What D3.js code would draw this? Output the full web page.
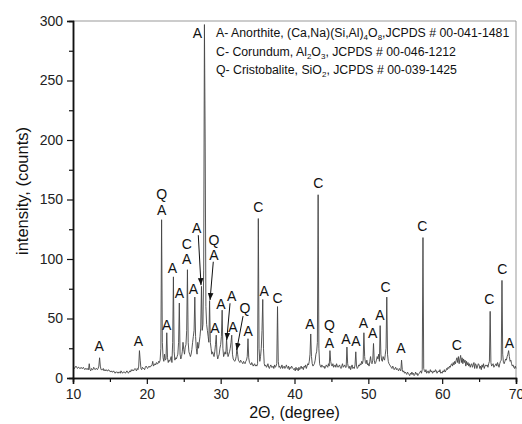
<!DOCTYPE html>
<html>
<head>
<meta charset="utf-8">
<script src="https://cdn.jsdelivr.net/npm/d3@7"></script>
<style>
  body { margin:0; background:#fff; }
  text { font-family: Arial, "Liberation Sans", sans-serif; }
</style>
</head>
<body>
<div id="plotarea"></div>
<script>
// XRD pattern, counts read every 0.1 deg from 10.0 to 70.0 (one row per degree)
var startAngle = 10, stepAngle = 0.1;
var countsByDegree = [
  [9,9,8,9,10,9,8,9,9,8],          // 10
  [8,9,8,8,9,8,7,8,8,7],           // 11
  [8,7,12,7,6,8,7,7,9,8],          // 12
  [7,8,8,7,8,10,17,10,7,7],        // 13
  [7,8,6,7,6,7,6,6,7,6],           // 14
  [6,5,6,5,5,6,5,4,5,5],           // 15
  [5,4,5,5,4,6,5,4,5,5],           // 16
  [5,4,5,6,5,4,5,6,5,7],           // 17
  [6,7,6,7,8,7,6,8,7,10],          // 18
  [23,15,8,7,9,8,8,7,9,10],        // 19
  [9,8,9,10,9,10,10,11,14,10],     // 20
  [11,12,11,13,12,12,14,13,15,25], // 21
  [133,30,17,14,20,15,16,38,17,13],// 22
  [15,14,16,18,13,30,85,22,15,17], // 23
  [16,18,20,30,63,20,16,18,22,30], // 24
  [24,20,26,28,40,91,30,22,20,18], // 25
  [20,24,30,35,40,68,35,25,20,30], // 26
  [25,30,35,42,77,40,45,90,297,200],// 27
  [60,45,40,35,30,65,30,25,20,22], // 28
  [20,18,22,28,36,20,16,18,20,25], // 29
  [28,35,57,25,18,20,22,20,33,22], // 30
  [18,20,22,25,30,36,20,16,15,14], // 31
  [15,18,25,20,15,14,13,15,14,13], // 32
  [12,14,13,12,14,15,18,33,17,13], // 33
  [12,11,13,12,10,11,12,10,11,10], // 34
  [12,134,25,14,18,25,40,66,25,12],// 35
  [10,11,9,10,12,9,8,10,11,9],     // 36
  [9,10,8,11,9,10,12,60,14,9],     // 37
  [10,8,9,11,8,9,10,8,9,11],       // 38
  [9,8,10,7,9,8,10,9,8,7],         // 39
  [8,6,9,7,8,6,9,7,8,10],          // 40
  [8,9,7,10,9,11,8,10,12,11],      // 41
  [14,20,37,18,12,10,11,12,15,20], // 42
  [22,30,154,25,12,10,9,11,10,9],  // 43
  [10,8,9,11,10,9,12,10,23,14],    // 44
  [11,10,12,9,10,11,9,12,10,9],    // 45
  [10,11,9,8,10,12,9,10,11,9],     // 46
  [9,26,12,9,8,10,7,9,11,8],       // 47
  [9,8,11,22,10,8,9,11,10,12],     // 48
  [11,14,12,15,38,18,13,12,15,11], // 49
  [12,10,14,18,13,12,15,29,15,12], // 50
  [13,15,18,16,20,14,44,20,15,14], // 51
  [18,16,15,20,25,68,20,14,12,11], // 52
  [10,9,8,10,9,7,8,9,7,8],         // 53
  [7,6,8,7,6,15,7,5,6,4],          // 54
  [5,4,3,5,4,3,2,4,3,5],           // 55
  [3,4,2,3,5,3,4,2,3,4],           // 56
  [5,6,4,7,118,8,6,5,7,4],         // 57
  [5,6,4,5,7,5,6,4,5,6],           // 58
  [5,7,6,4,5,6,5,7,4,5],           // 59
  [4,6,5,7,5,6,8,7,9,8],           // 60
  [10,9,11,12,10,13,11,14,12,15],  // 61
  [17,13,18,12,16,19,13,17,12,16], // 62
  [13,15,10,14,11,13,10,12,9,11],  // 63
  [12,9,11,13,8,12,11,8,10,12],    // 64
  [11,8,10,7,11,9,12,8,10,11],     // 65
  [10,11,9,12,14,56,13,10,11,12],  // 66
  [9,10,11,12,10,13,11,9,12,14],   // 67
  [15,82,20,13,12,14,16,15,18,20], // 68
  [23,18,14,15,12,10,11,9,8,10],   // 69
  [8]                              // 70
];

// peak labels: [text, 2theta, counts at baseline of letter]
var peakLabels = [
  ["A",13.56,22.3],["A",18.85,26.5],["Q",22.0,150.8],["A",22.0,137],
  ["A",22.69,40.3],["A",23.45,88.5],["A",24.4,67],["C",25.4,108.4],["A",25.4,95.5],
  ["A",26.3,70.3],["A",26.75,121.6],["A",26.85,285.5],["Q",29.1,111.8],["A",29.1,99.2],
  ["A",29.23,37.6],["A",30.05,57.7],["A",31.5,64.7],["A",31.67,38.9],["Q",33.3,54.4],
  ["A",33.74,35.5],["C",35.1,139.2],["A",35.9,69.2],["C",37.72,62.8],["A",42.1,41.2],
  ["C",43.23,159.4],["Q",44.72,40.3],["A",44.72,25.5],["A",46.98,28.3],["A",48.33,27.1],
  ["A",49.32,42.3],["A",50.59,33.4],["A",51.58,48.7],["C",52.35,72.5],["A",54.43,20.7],
  ["C",57.31,123.5],["C",61.97,23.5],["C",66.39,61.9],["C",68.15,87.1],["A",69.1,25.5]
];
// arrows: [from 2theta, from counts, to 2theta, to counts]
var arrows = [
  [26.97,120,27.34,78],
  [29.0,97.7,28.56,65.5],
  [31.27,62.8,30.82,32],
  [33.03,52,32.17,23.5]
];
var legendLines = [
  [["A- Anorthite, (Ca,Na)(Si,Al)",0],["4",1],["O",0],["8",1],[",JCPDS # 00-041-1481",0]],
  [["C- Corundum, Al",0],["2",1],["O",0],["3",1],[", JCPDS # 00-046-1212",0]],
  [["Q- Cristobalite, SiO",0],["2",1],[", JCPDS # 00-039-1425",0]]
];
var xTicks = [10,20,30,40,50,60,70];
var yTicks = [0,50,100,150,200,250,300];

var W = 522, H = 424;
var margin_left = 73, margin_right = 6, margin_top = 21, margin_bottom = 46;
var width = W - margin_left - margin_right;
var height = H - margin_top - margin_bottom;

var svg = d3.select("#plotarea").append("svg")
  .attr("width", W).attr("height", H);
var g = svg.append("g")
  .attr("transform", "translate(" + margin_left + "," + margin_top + ")");

var x = d3.scaleLinear().domain([10,70]).range([0,width]);
var y = d3.scaleLinear().domain([0,300]).range([height,0]);

var counts = [].concat.apply([], countsByDegree);
var trace = counts.map(function(c,i){ return [startAngle + i*stepAngle, c]; });

// frame (top/right light)
g.append("line").attr("x1",0).attr("x2",width).attr("y1",0).attr("y2",0)
  .attr("stroke","#999").attr("stroke-width",1);
g.append("line").attr("x1",width).attr("x2",width).attr("y1",0).attr("y2",height)
  .attr("stroke","#999").attr("stroke-width",1);

// the pattern
g.append("path").datum(trace)
  .attr("fill","none").attr("stroke","#444").attr("stroke-width",0.9)
  .attr("d", d3.line().x(function(d){return x(d[0]);}).y(function(d){return y(d[1]);}));

// axes
g.append("g").attr("transform","translate(0," + height + ")")
  .call(d3.axisBottom(x).tickValues(xTicks).tickSize(6).tickPadding(5).tickFormat(d3.format("d")));
g.append("g").attr("transform","translate(0," + height + ")")
  .call(d3.axisBottom(x).tickValues(d3.range(15,70,10)).tickSize(4).tickFormat(""));
g.append("g")
  .call(d3.axisLeft(y).tickValues(yTicks).tickSize(6).tickPadding(4).tickFormat(d3.format("d")));
g.append("g")
  .call(d3.axisLeft(y).tickValues(d3.range(25,300,50)).tickSize(4).tickFormat(""));
g.selectAll(".domain").attr("stroke","#111").attr("stroke-width",1.5);
g.selectAll(".tick line").attr("stroke","#111").attr("stroke-width",1.2);
g.selectAll(".tick text").attr("font-size",14).attr("fill","#222")
  .attr("font-family","Arial, 'Liberation Sans', sans-serif");

// axis titles
svg.append("text").attr("x", margin_left + width/2).attr("y", 418)
  .attr("text-anchor","middle").attr("font-size",16).attr("fill","#111")
  .text("2\u0398, (degree)");
svg.append("text").attr("transform","translate(28,191) rotate(-90)")
  .attr("text-anchor","middle").attr("font-size",16.5).attr("fill","#111")
  .text("intensity, (counts)");

// peak labels
g.selectAll(".plabel").data(peakLabels).enter().append("text")
  .attr("class","plabel")
  .attr("x", function(d){return x(d[1]);})
  .attr("y", function(d){return y(d[2]);})
  .attr("text-anchor","middle").attr("font-size",14).attr("fill","#111")
  .text(function(d){return d[0];});

// arrows
svg.append("defs").append("marker").attr("id","arr")
  .attr("viewBox","0 0 10 10").attr("refX",10).attr("refY",5)
  .attr("markerWidth",7).attr("markerHeight",7).attr("orient","auto")
  .attr("markerUnits","userSpaceOnUse")
  .append("path").attr("d","M0,1 L10,5 L0,9 Z").attr("fill","#111");
g.selectAll(".arrow").data(arrows).enter().append("line")
  .attr("x1",function(d){return x(d[0]);}).attr("y1",function(d){return y(d[1]);})
  .attr("x2",function(d){return x(d[2]);}).attr("y2",function(d){return y(d[3]);})
  .attr("stroke","#111").attr("stroke-width",1).attr("marker-end","url(#arr)");

// legend (phase list)
legendLines.forEach(function(line,i){
  var t = svg.append("text").attr("x",216).attr("y",37 + i*18.5)
    .attr("font-size",12.3).attr("fill","#111");
  line.forEach(function(seg){
    var ts = t.append("tspan").text(seg[0]);
    if (seg[1]) ts.attr("font-size",8).attr("baseline-shift","-3");
  });
});
</script>
</body>
</html>
